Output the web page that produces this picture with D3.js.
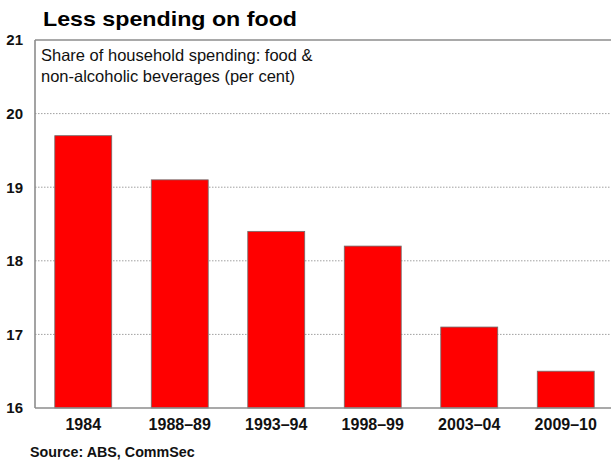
<!DOCTYPE html>
<html>
<head>
<meta charset="utf-8">
<script src="https://cdn.jsdelivr.net/npm/d3@7"></script>
<style>
  html, body { margin: 0; padding: 0; background: #fff; }
  svg { display: block; font-family: "Liberation Sans", Arial, sans-serif; }
</style>
</head>
<body>
<svg id="chart" width="611" height="461"></svg>
<script>
// Share of household spending on food & non-alcoholic beverages (per cent)
const categories = ["1984", "1988–89", "1993–94", "1998–99", "2003–04", "2009–10"];
const shares = [19.7, 19.1, 18.4, 18.2, 17.1, 16.5];
const yTicks = [16, 17, 18, 19, 20, 21];

const titleText = "Less spending on food";
const noteLines = ["Share of household spending: food &", "non-alcoholic beverages (per cent)"];
const sourceText = "Source: ABS, CommSec";

const svg = d3.select("#chart");
const plotLeft = 35, plotRight = 614, plotTop = 40, plotBottom = 408, frameRight = 611;

const x = d3.scaleBand()
  .domain(categories)
  .range([plotLeft, plotRight])
  .paddingInner(0.41)
  .paddingOuter(0.205);

const y = d3.scaleLinear().domain([16, 21]).range([plotBottom, plotTop]);

// Dotted gridlines
svg.append("g")
  .selectAll("line")
  .data(yTicks.filter(t => t > 16 && t < 21))
  .join("line")
  .attr("x1", plotLeft).attr("x2", frameRight)
  .attr("y1", d => y(d)).attr("y2", d => y(d))
  .attr("stroke", "#a0a0a0")
  .attr("stroke-width", 1)
  .attr("stroke-dasharray", "1.5,1.5");

// Bars
svg.append("g")
  .selectAll("rect")
  .data(categories.map((c, i) => ({ c, v: shares[i] })))
  .join("rect")
  .attr("x", d => x(d.c))
  .attr("width", x.bandwidth())
  .attr("y", d => y(d.v))
  .attr("height", d => y(16) - y(d.v))
  .attr("fill", "#ff0000")
  .attr("stroke", "#6e6e6e")
  .attr("stroke-width", 0.8);

// Frame: top, left and bottom lines
const frame = svg.append("g").attr("stroke", "#8c8c8c").attr("stroke-width", 1.6).attr("fill", "none");
frame.append("line").attr("x1", plotLeft).attr("x2", frameRight).attr("y1", y(21)).attr("y2", y(21));
frame.append("line").attr("x1", plotLeft).attr("x2", plotLeft).attr("y1", y(21)).attr("y2", y(16));
frame.append("line").attr("x1", plotLeft).attr("x2", frameRight).attr("y1", y(16)).attr("y2", y(16));

// Y axis labels
const yAxis = d3.axisLeft(y).tickValues(yTicks).tickSize(0).tickPadding(12).tickFormat(d3.format("d"));
const yg = svg.append("g").attr("transform", `translate(${plotLeft},0)`).call(yAxis);
yg.select(".domain").remove();
yg.selectAll("text")
  .attr("font-family", "Liberation Sans, Arial, sans-serif")
  .attr("font-size", 15).attr("font-weight", "bold").attr("fill", "#111");

// X axis labels
const xAxis = d3.axisBottom(x).tickSize(0).tickPadding(11);
const xg = svg.append("g").attr("transform", `translate(0,${plotBottom})`).call(xAxis);
xg.select(".domain").remove();
xg.selectAll("text")
  .attr("font-family", "Liberation Sans, Arial, sans-serif")
  .attr("font-size", 16).attr("font-weight", "bold").attr("fill", "#111");

// Title
svg.append("text")
  .attr("x", 43).attr("y", 25.5)
  .attr("font-size", 21).attr("font-weight", "bold").attr("fill", "#000")
  .attr("textLength", 254).attr("lengthAdjust", "spacingAndGlyphs")
  .text(titleText);

// Note inside plot
svg.append("g").selectAll("text")
  .data(noteLines)
  .join("text")
  .attr("x", 41)
  .attr("y", (d, i) => 60.5 + i * 21)
  .attr("font-size", 16.5).attr("fill", "#111")
  .text(d => d);

// Source
svg.append("text")
  .attr("x", 30).attr("y", 457)
  .attr("font-size", 14.3).attr("font-weight", "bold").attr("fill", "#111")
  .text(sourceText);
</script>
</body>
</html>
